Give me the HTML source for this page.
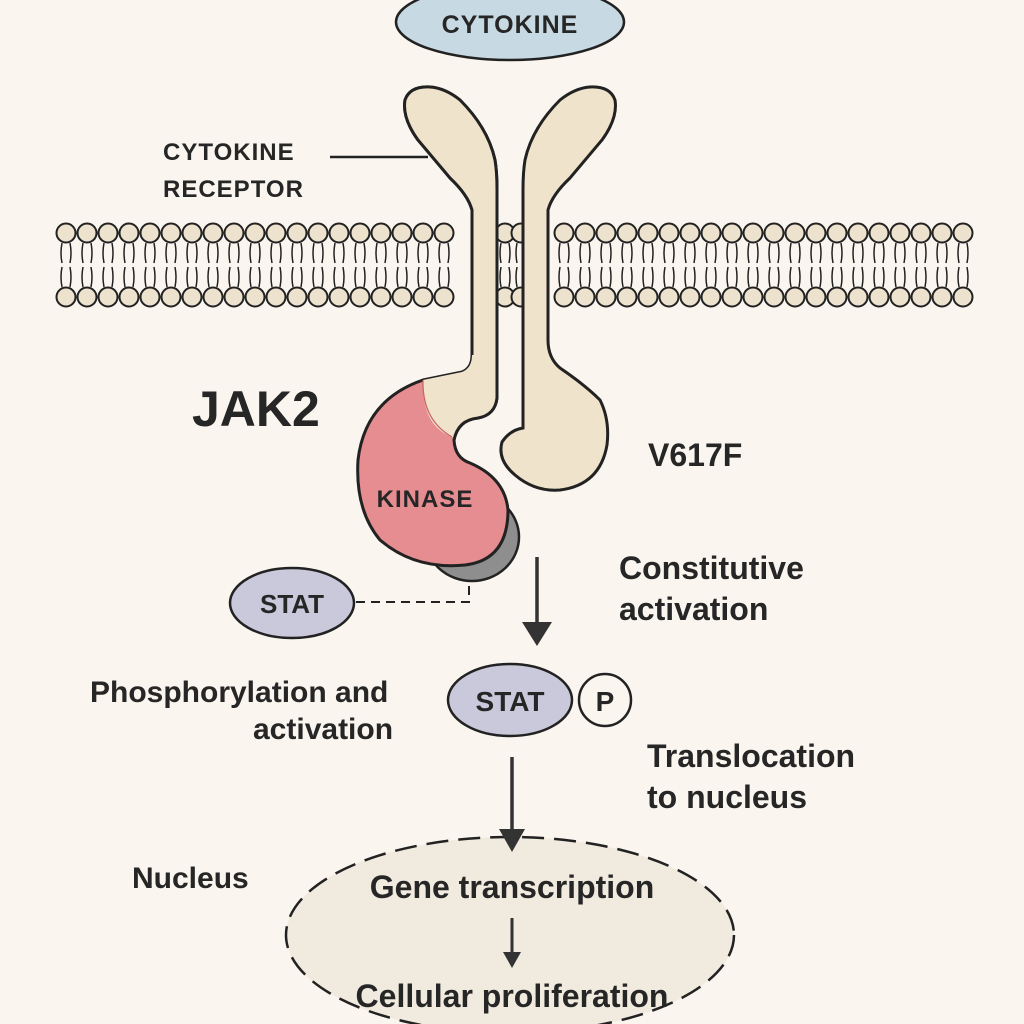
<!DOCTYPE html>
<html><head><meta charset="utf-8"><style>
html,body{margin:0;padding:0;background:#faf5ee;}
svg{display:block}
text{font-family:"Liberation Sans",sans-serif;fill:#262626;}
</style></head><body>
<svg id="s" width="1024" height="1024" viewBox="0 0 1024 1024" xmlns="http://www.w3.org/2000/svg">
<rect width="1024" height="1024" fill="#faf5ee"/>
<g id="mem"></g>
<ellipse cx="510" cy="22" rx="114" ry="38" fill="#c7d9e3" stroke="#222" stroke-width="2.5"/>
<text x="510" y="33" font-size="25" font-weight="bold" text-anchor="middle" letter-spacing="1">CYTOKINE</text>
<text x="163" y="160" font-size="24" font-weight="bold" letter-spacing="1">CYTOKINE</text>
<text x="163" y="197" font-size="24" font-weight="bold" letter-spacing="1">RECEPTOR</text>
<line x1="330" y1="157" x2="428" y2="157" stroke="#222" stroke-width="2.5"/>
<ellipse cx="472" cy="537" rx="47" ry="44" fill="#8e8e8e" stroke="#222" stroke-width="2.5"/>
<path d="M423,380 L462,372 Q472,368 472,355 L472,210 Q468,195 450,178 L418,140 Q402,118 405,100 Q410,86 430,87 Q445,88 460,100 Q488,128 495,160 Q497,172 497,190 L497,398 Q495,415 478,418 Q458,420 454,440 Q455,458 470,463 Q505,478 508,510 Q508,560 465,565 Q415,570 380,540 Q355,510 358,460 Q365,400 423,380 Z" fill="#e58d90" stroke="#222" stroke-width="3"/>
<path d="M423,380 L462,372 Q472,368 472,355 L472,210 Q468,195 450,178 L418,140 Q402,118 405,100 Q410,86 430,87 Q445,88 460,100 Q488,128 495,160 Q497,172 497,190 L497,398 Q495,415 478,418 Q458,420 454,438 Q432,430 426,408 Q422,395 423,380 Z" fill="#efe3cc"/>
<path d="M423,380 Q422,420 452,437" fill="none" stroke="#c96060" stroke-width="1.2"/>
<path d="M472,355 L472,210 Q468,195 450,178 L418,140 Q402,118 405,100 Q410,86 430,87 Q445,88 460,100 Q488,128 495,160 Q497,172 497,190 L497,398 Q495,415 478,418 Q458,420 454,440" fill="none" stroke="#222" stroke-width="3"/>
<path d="M523,190 Q523,172 525,160 Q532,128 560,100 Q575,88 590,87 Q610,86 615,100 Q618,118 602,140 L570,178 Q552,195 548,210 L548,340 Q548,358 560,368 Q585,385 600,400 Q610,420 607,445 Q600,485 560,490 Q535,492 515,475 Q497,460 502,442 Q510,430 523,428 Z" fill="#efe3cc" stroke="#222" stroke-width="3"/>
<text x="425" y="507" font-size="24" font-weight="bold" text-anchor="middle" letter-spacing="1">KINASE</text>
<text x="192" y="426" font-size="50" font-weight="bold" fill="#333">JAK2</text>
<text x="648" y="466" font-size="32" font-weight="bold">V617F</text>
<ellipse cx="292" cy="603" rx="62" ry="35" fill="#c9c9db" stroke="#222" stroke-width="2.5"/>
<text x="292" y="613" font-size="26" font-weight="bold" text-anchor="middle">STAT</text>
<path d="M356,602 L469,602 L469,583" fill="none" stroke="#222" stroke-width="2" stroke-dasharray="9,6"/>
<line x1="537" y1="557" x2="537" y2="625" stroke="#333" stroke-width="3.5"/>
<polygon points="522,622 552,622 537,646" fill="#333"/>
<text x="619" y="579" font-size="32" font-weight="bold">Constitutive</text>
<text x="619" y="620" font-size="32" font-weight="bold">activation</text>
<ellipse cx="510" cy="700" rx="62" ry="36" fill="#c9c9db" stroke="#222" stroke-width="2.5"/>
<text x="510" y="711" font-size="28" font-weight="bold" text-anchor="middle">STAT</text>
<circle cx="605" cy="700" r="26" fill="#faf5ee" stroke="#222" stroke-width="2.5"/>
<text x="605" y="711" font-size="28" font-weight="bold" text-anchor="middle">P</text>
<text x="90" y="702" font-size="30" font-weight="bold">Phosphorylation and</text>
<text x="253" y="739" font-size="30" font-weight="bold">activation</text>
<text x="647" y="767" font-size="32" font-weight="bold">Translocation</text>
<text x="647" y="808" font-size="32" font-weight="bold">to nucleus</text>
<ellipse cx="510" cy="935" rx="224" ry="98" fill="#f1eadf" stroke="#222" stroke-width="2.5" stroke-dasharray="22,10"/>
<line x1="512" y1="757" x2="512" y2="832" stroke="#333" stroke-width="3.5"/>
<polygon points="499,829 525,829 512,852" fill="#333"/>
<text x="132" y="888" font-size="30" font-weight="bold">Nucleus</text>
<text x="512" y="898" font-size="32" font-weight="bold" text-anchor="middle">Gene transcription</text>
<line x1="512" y1="918" x2="512" y2="955" stroke="#333" stroke-width="3"/>
<polygon points="503,952 521,952 512,968" fill="#333"/>
<text x="512" y="1007" font-size="32" font-weight="bold" text-anchor="middle">Cellular proliferation</text>
</svg>
<script>
var g=document.getElementById('mem'),h='';
var xs=[];
for(var x=66;x<=462;x+=21)xs.push(x);
xs.push(505);xs.push(521);
for(var x=564;x<=970;x+=21)xs.push(x);
xs.forEach(function(x){
 h+='<path d="M'+(x-4)+',243 q-2,10 0,20 M'+(x+4)+',243 q2,10 0,20 M'+(x-4)+',267 q-2,10 0,20 M'+(x+4)+',267 q2,10 0,20" fill="none" stroke="#222" stroke-width="1.5"/>';
 h+='<circle cx="'+x+'" cy="233" r="9.5" fill="#ece2cd" stroke="#222" stroke-width="2"/>';
 h+='<circle cx="'+x+'" cy="297" r="9.5" fill="#ece2cd" stroke="#222" stroke-width="2"/>';
});
g.innerHTML=h;
</script>
</body></html>
